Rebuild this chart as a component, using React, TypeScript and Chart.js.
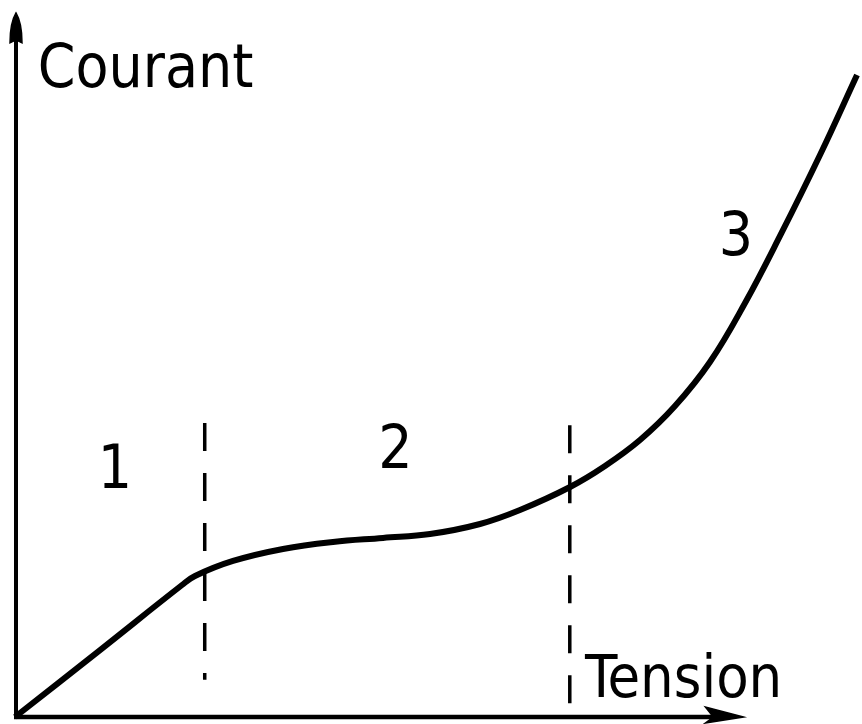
import React, { useEffect, useRef } from "react";
import { Chart, registerables } from "chart.js";

Chart.register(...registerables);

// Characteristic curve (arbitrary units, 0..100 on both axes)
const curveTension = [0, 10.04, 19.72, 21.25, 25.74, 31.64, 37.54, 43.45, 49.0, 54.9, 59.62, 65.53, 69.66, 73.79, 77.92, 82.05, 86.19, 90.32, 95.04, 99.41];
const curveCourant = [0, 9.34, 18.41, 19.67, 21.76, 23.43, 24.41, 24.97, 25.52, 26.92, 28.87, 32.08, 35.01, 38.63, 43.37, 49.51, 57.74, 67.09, 78.38, 89.54];

// Dashed region boundaries (top to bottom)
const boundaryX = [22.4, 65.5];
const boundaryTop = [41.0, 40.7];
const boundaryBottom = [5.2, 1.4];

// Region labels
const regionLabels = ["1", "2", "3"];
const regionLabelX = [11.8, 44.9, 85.1];
const regionLabelY = [31.9, 34.7, 64.4];

// Axis titles and arrow ends
const yAxisTitle = "Courant";
const xAxisTitle = "Tension";
const yTitlePos = [2.7, 87.9];
const xTitlePos = [67.3, 2.8];
const xAxisEnd = 86.0;
const yAxisEnd = 98.2;

const FONT = '"DejaVu Sans Condensed", "DejaVu Sans", sans-serif';

const decorPlugin = {
  id: "decor",
  afterDatasetsDraw(chart: any) {
    const ctx = chart.ctx;
    const xs = chart.scales.x;
    const ys = chart.scales.y;
    const ox = xs.getPixelForValue(0);
    const oy = ys.getPixelForValue(0);
    ctx.save();
    ctx.strokeStyle = "#000";
    ctx.fillStyle = "#000";
    ctx.lineCap = "butt";

    // Y axis
    const yTip = ys.getPixelForValue(yAxisEnd);
    ctx.lineWidth = 4;
    ctx.beginPath();
    ctx.moveTo(ox + 1, oy + 2);
    ctx.lineTo(ox + 1, yTip + 20);
    ctx.stroke();
    ctx.beginPath();
    ctx.moveTo(ox + 1, yTip);
    ctx.quadraticCurveTo(ox + 7, yTip + 10, ox + 7, yTip + 30);
    ctx.lineTo(ox + 1, yTip + 27);
    ctx.lineTo(ox - 5, yTip + 30);
    ctx.quadraticCurveTo(ox - 5, yTip + 10, ox + 1, yTip);
    ctx.closePath();
    ctx.fill();
    ctx.lineWidth = 1.5;
    ctx.stroke();

    // X axis
    const xTip = xs.getPixelForValue(xAxisEnd);
    ctx.lineWidth = 4.5;
    ctx.beginPath();
    ctx.moveTo(ox - 1, oy);
    ctx.lineTo(xTip - 20, oy);
    ctx.stroke();
    ctx.beginPath();
    ctx.moveTo(xTip, oy);
    ctx.lineTo(xTip - 38, oy - 10);
    ctx.lineTo(xTip - 30, oy);
    ctx.lineTo(xTip - 38, oy + 6);
    ctx.closePath();
    ctx.fill();
    ctx.lineWidth = 1.5;
    ctx.stroke();

    // Titles
    ctx.textBaseline = "alphabetic";
    ctx.textAlign = "left";
    ctx.font = `60px ${FONT}`;
    ctx.fillText(yAxisTitle, xs.getPixelForValue(yTitlePos[0]), ys.getPixelForValue(yTitlePos[1]));
    ctx.font = `59px ${FONT}`;
    ctx.fillText(xAxisTitle, xs.getPixelForValue(xTitlePos[0]), ys.getPixelForValue(xTitlePos[1]));

    // Region labels
    ctx.textAlign = "center";
    ctx.font = `60px ${FONT}`;
    regionLabels.forEach((t, i) => {
      ctx.fillText(t, xs.getPixelForValue(regionLabelX[i]), ys.getPixelForValue(regionLabelY[i]));
    });
    ctx.restore();
  },
};

export default function App() {
  const ref = useRef<HTMLCanvasElement>(null);
  useEffect(() => {
    document.body.style.margin = "0";
    const canvas = ref.current!;
    const curve = curveTension.map((x, i) => ({ x, y: curveCourant[i] }));
    const boundaries = boundaryX.map((x, i) => ({
      type: "line" as const,
      data: [
        { x, y: boundaryTop[i] },
        { x, y: boundaryBottom[i] },
      ],
      borderColor: "#000",
      borderWidth: 3.5,
      borderDash: [28, 22],
      pointRadius: 0,
      showLine: true,
      tension: 0,
      clip: false as any,
    }));
    const chart = new Chart(canvas, {
      type: "scatter",
      data: {
        datasets: [
          {
            data: curve,
            showLine: true,
            borderColor: "#000",
            borderWidth: 6,
            pointRadius: 0,
            tension: 0.4,
            clip: false as any,
          } as any,
          ...boundaries,
        ],
      },
      options: {
        responsive: false,
        animation: false,
        layout: { padding: { left: 15, right: 0, top: 0, bottom: 7 } },
        plugins: { legend: { display: false }, tooltip: { enabled: false } },
        scales: {
          x: { type: "linear", min: 0, max: 100, display: false },
          y: { type: "linear", min: 0, max: 100, display: false },
        },
      },
      plugins: [decorPlugin],
    });
    return () => chart.destroy();
  }, []);
  return (
    <div style={{ width: 862, height: 724, background: "#fff" }}>
      <canvas ref={ref} width={862} height={724} style={{ display: "block" }} />
    </div>
  );
}
